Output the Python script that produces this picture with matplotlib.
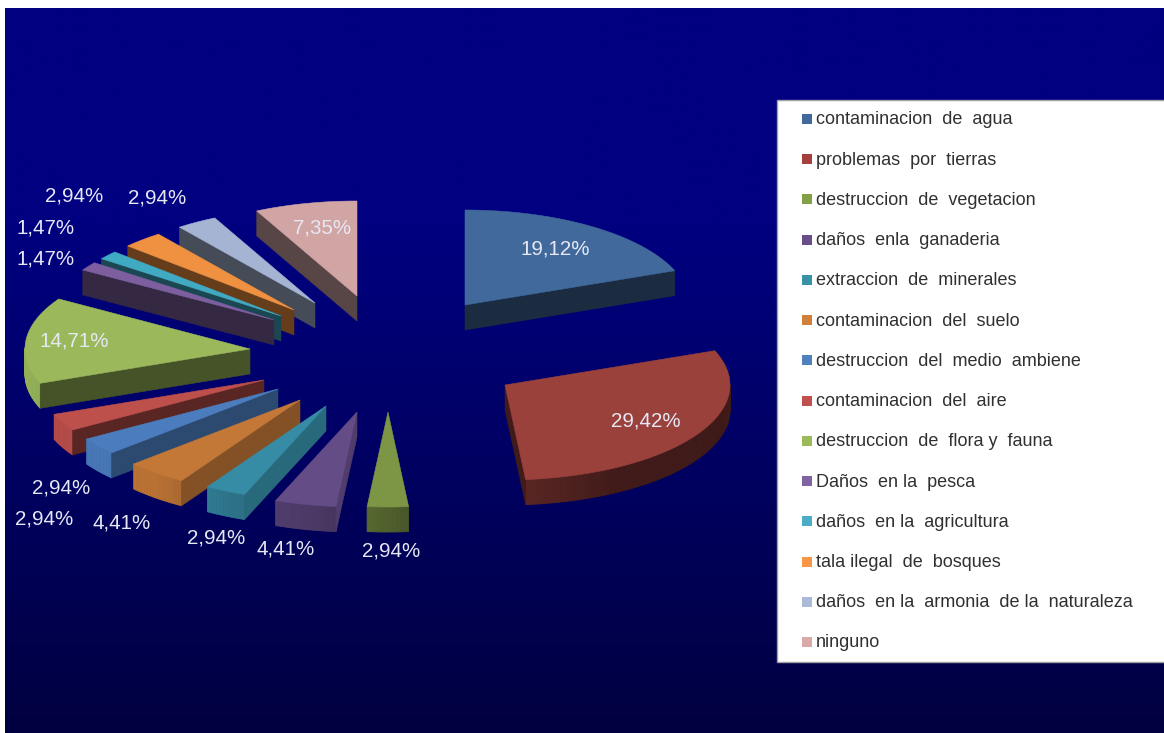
import numpy as np
import matplotlib
matplotlib.use('Agg')
import matplotlib.pyplot as plt
from matplotlib.colors import LinearSegmentedColormap
from matplotlib.patches import Rectangle

categorias = ['contaminacion  de  agua', 'problemas  por  tierras', 'destruccion  de  vegetacion',
              'daños  enla  ganaderia', 'extraccion  de  minerales', 'contaminacion  del  suelo',
              'destruccion  del  medio  ambiene', 'contaminacion  del  aire', 'destruccion  de  flora y  fauna',
              'Daños  en la  pesca', 'daños  en la  agricultura', 'tala ilegal  de  bosques',
              'daños  en la  armonia  de la  naturaleza', 'ninguno']
valores = [19.12, 29.42, 2.94, 4.41, 2.94, 4.41, 2.94, 2.94, 14.71, 1.47, 1.47, 2.94, 2.94, 7.35]

colores = ['#41699b', '#9b413c', '#7d9646', '#644c87', '#378ca5', '#c37837', '#4b7dbe', '#be504b',
           '#9bb95a', '#7d5fa0', '#41aac3', '#f09141', '#a5b4d2', '#d2a5a5']
colores_leyenda = ['#41699b', '#a5403c', '#82a046', '#6a4e8c', '#3a92a8', '#d08038', '#4f81bd', '#c0504d',
                   '#9bbb59', '#8064a2', '#4bacc6', '#f79646', '#aabad7', '#dba9a8']

# punta de cada porcion en pixeles (explosion del pastel)
puntas = [(465, 305), (505, 385), (388, 412), (357, 412), (326, 406), (300, 400), (278, 389),
          (264, 380), (250, 349), (274, 320), (281, 316), (294, 310), (315, 303), (357, 296)]
pos_etiquetas = [(555, 249), (646, 421), (391, 551), (286, 549), (216, 538), (122, 523), (44, 519),
                 (61, 488), (74, 341), (46, 259), (46, 228), (74, 196), (157, 198), (322, 228)]

rx, ry, alto = 225, 95, 25


def punto(tip, a):
    r = np.radians(a)
    return tip[0] + rx * np.sin(r), tip[1] - ry * np.cos(r)


def tono(color, f):
    c = np.array(matplotlib.colors.to_rgb(color))
    return tuple(c * f)


def sombra_borde(a):
    return np.interp(a, [90, 150, 175, 190, 205, 220, 270], [.4, .42, .58, .75, .82, .95, .95])


def sombra_corte(a):
    return np.interp(a, [60, 175, 185, 201, 212, 228, 238, 249, 300, 360],
                     [.42, .42, .8, .75, .67, .58, .47, .45, .42, .42])


fig = plt.figure(figsize=(11.64, 7.33), dpi=100, facecolor='white')
ax = fig.add_axes([0, 0, 1, 1])
ax.set_xlim(0, 1164)
ax.set_ylim(733, 0)
ax.axis('off')

# fondo degradado
cmap = LinearSegmentedColormap.from_list('fondo', [(0, '#000080'), (0.3, '#000080'), (1, '#000040')])
ax.imshow(np.linspace(0, 1, 256).reshape(-1, 1), extent=(5, 1164, 733, 8), cmap=cmap, aspect='auto', zorder=0)
ax.set_xlim(0, 1164)
ax.set_ylim(733, 0)

acum = np.cumsum([0] + valores) / 100 * 360
for i in range(len(valores)):
    a0, a1 = acum[i], acum[i + 1]
    tip = puntas[i]
    col = colores[i]
    # las puntas mas abajo quedan delante
    z = 2 + tip[1] * 0.001

    # borde curvo, solo la parte que mira al frente
    angs = np.arange(a0, a1 + 1.0, 1.0)
    angs[-1] = min(angs[-1], a1)
    for b0, b1 in zip(angs[:-1], angs[1:]):
        if b1 <= 90 or b0 >= 270:
            continue
        x0, y0 = punto(tip, b0)
        x1, y1 = punto(tip, b1)
        c = tono(col, sombra_borde((b0 + b1) / 2))
        ax.fill([x0, x1, x1, x0], [y0, y1, y1 + alto, y0 + alto], color=c, lw=0.6, zorder=z)

    # caras de corte
    xm, ym = punto(tip, (a0 + a1) / 2)
    for a in (a0, a1):
        x, y = punto(tip, a)
        dx, dy = x - tip[0], y - tip[1]
        nx, ny = -dy, dx
        if nx * (xm - tip[0]) + ny * (ym - tip[1]) > 0:
            nx, ny = -nx, -ny
        if ny > 0:
            ax.fill([tip[0], x, x, tip[0]], [tip[1], y, y + alto, tip[1] + alto],
                    color=tono(col, sombra_corte(a)), lw=0.4, zorder=z + 0.0001)

    # cara superior
    angs = np.linspace(a0, a1, 80)
    xs, ys = punto(tip, angs)
    ax.fill(np.r_[tip[0], xs], np.r_[tip[1], ys], color=col, lw=0.4, zorder=z + 0.0002)

fuente = 'Liberation Sans'
for v, (x, y) in zip(valores, pos_etiquetas):
    ax.text(x, y, f'{v:.2f}%'.replace('.', ','), color='#e6e8f4', fontsize=14.8, family=fuente,
            ha='center', va='center', zorder=5)

# leyenda
ax.add_patch(Rectangle((777, 100), 390, 562, facecolor='white', edgecolor='#a0a0a0', lw=1, zorder=6))
for i, nombre in enumerate(categorias):
    y = 119 + i * 40.23
    ax.add_patch(Rectangle((802, y - 5), 10, 10, facecolor=colores_leyenda[i], edgecolor='none', zorder=7))
    ax.text(816, y + 1, nombre, color='#303030', fontsize=13, family=fuente, ha='left', va='center', zorder=7)

fig.savefig('out.png', dpi=100, facecolor='white')
